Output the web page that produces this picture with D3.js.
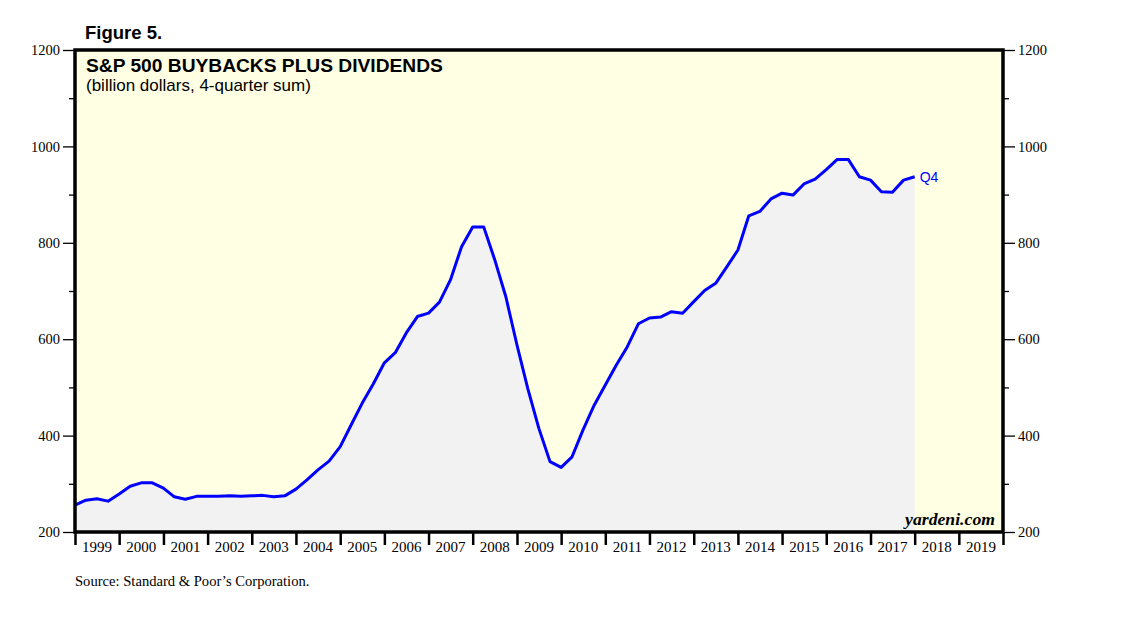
<!DOCTYPE html>
<html>
<head>
<meta charset="utf-8">
<script src="https://cdn.jsdelivr.net/npm/d3@7"></script>
<style>
    body { margin: 0; background: #fff; }
    svg { display: block; }
    .tick text { font-family: "Liberation Serif", "Times New Roman", serif; font-size: 14.5px; fill: #000; }
</style>
</head>
<body>
<svg id="chart" width="1138" height="621"></svg>
<script>
// quarterly 4-quarter sums, billion dollars
const quarters = [
    "1998Q4",
    "1999Q1", "1999Q2", "1999Q3", "1999Q4",
    "2000Q1", "2000Q2", "2000Q3", "2000Q4",
    "2001Q1", "2001Q2", "2001Q3", "2001Q4",
    "2002Q1", "2002Q2", "2002Q3", "2002Q4",
    "2003Q1", "2003Q2", "2003Q3", "2003Q4",
    "2004Q1", "2004Q2", "2004Q3", "2004Q4",
    "2005Q1", "2005Q2", "2005Q3", "2005Q4",
    "2006Q1", "2006Q2", "2006Q3", "2006Q4",
    "2007Q1", "2007Q2", "2007Q3", "2007Q4",
    "2008Q1", "2008Q2", "2008Q3", "2008Q4",
    "2009Q1", "2009Q2", "2009Q3", "2009Q4",
    "2010Q1", "2010Q2", "2010Q3", "2010Q4",
    "2011Q1", "2011Q2", "2011Q3", "2011Q4",
    "2012Q1", "2012Q2", "2012Q3", "2012Q4",
    "2013Q1", "2013Q2", "2013Q3", "2013Q4",
    "2014Q1", "2014Q2", "2014Q3", "2014Q4",
    "2015Q1", "2015Q2", "2015Q3", "2015Q4",
    "2016Q1", "2016Q2", "2016Q3", "2016Q4",
    "2017Q1", "2017Q2", "2017Q3", "2017Q4"
];
const buybacksPlusDividends = [
    256,
    266, 269, 264, 279,
    295, 302, 302, 291,
    273, 268, 274, 274,
    274, 275, 274, 275,
    276, 273, 275, 289,
    308, 329, 347, 377,
    422, 467, 507, 551,
    572, 613, 647, 654,
    677, 723, 792, 833,
    833, 765, 688, 588,
    497, 415, 346, 334,
    356, 412, 463, 505,
    546, 584, 632, 644,
    646, 657, 654, 678,
    701, 716, 750, 785,
    856, 865, 891, 903,
    899, 922, 932, 952,
    973, 973, 937, 930,
    906, 905, 930, 937
];
const yearLabels = ["1999", "2000", "2001", "2002", "2003", "2004", "2005", "2006", "2007",
    "2008", "2009", "2010", "2011", "2012", "2013", "2014", "2015", "2016", "2017", "2018", "2019"];
const yMajorTicks = [200, 400, 600, 800, 1000, 1200];
const yMinorTicks = [300, 500, 700, 900, 1100];

const svg = d3.select("#chart");
const plotL = 75, plotR = 1003, plotT = 50, plotB = 532;

// points sit at the end of each quarter
const quarterEnd = function (q) {
    const yr = +q.slice(0, 4), n = +q.slice(5);
    return new Date(yr, n * 3, 1);
};
const data = quarters.map(function (q, i) {
    return {date: quarterEnd(q), value: buybacksPlusDividends[i]};
});

const x = d3.scaleTime()
    .domain([new Date(1999, 0, 1), new Date(2020, 0, 1)])
    .range([plotL, plotR]);
const y = d3.scaleLinear().domain([200, 1200]).range([plotB, plotT]);

svg.append("rect")
    .attr("x", plotL).attr("y", plotT)
    .attr("width", plotR - plotL).attr("height", plotB - plotT)
    .attr("fill", "#ffffe3");

svg.append("path")
    .datum(data)
    .attr("fill", "#f2f2f2")
    .attr("d", d3.area().x(d => x(d.date)).y0(plotB).y1(d => y(d.value)));

svg.append("path")
    .datum(data)
    .attr("fill", "none")
    .attr("stroke", "#0000ff")
    .attr("stroke-width", 3)
    .attr("stroke-linejoin", "round")
    .attr("d", d3.line().x(d => x(d.date)).y(d => y(d.value)));

const last = data[data.length - 1];
svg.append("text")
    .attr("x", x(last.date) + 5).attr("y", y(last.value) + 5)
    .attr("font-family", "Liberation Sans, Arial, sans-serif")
    .attr("font-size", 14)
    .attr("fill", "#0000ff")
    .text("Q4");

// y axes, left and right, major + minor ticks
const yAxisL = svg.append("g").attr("transform", "translate(" + plotL + ",0)");
yAxisL.append("g").call(d3.axisLeft(y).tickValues(yMajorTicks).tickSize(12).tickPadding(3).tickFormat(d3.format("d")));
yAxisL.append("g").call(d3.axisLeft(y).tickValues(yMinorTicks).tickSize(6).tickFormat(""));
const yAxisR = svg.append("g").attr("transform", "translate(" + plotR + ",0)");
yAxisR.append("g").call(d3.axisRight(y).tickValues(yMajorTicks).tickSize(12).tickPadding(3).tickFormat(d3.format("d")));
yAxisR.append("g").call(d3.axisRight(y).tickValues(yMinorTicks).tickSize(6).tickFormat(""));

// x axis: ticks on year boundaries, labels centred in the year
const yearBounds = d3.range(1999, 2021).map(yr => new Date(yr, 0, 1));
const xAxis = svg.append("g").attr("transform", "translate(0," + plotB + ")");
xAxis.call(d3.axisBottom(x).tickValues(yearBounds).tickSize(13).tickFormat(""));
xAxis.selectAll("text.yearLabel")
    .data(yearLabels)
    .enter().append("text")
    .attr("class", "yearLabel")
    .attr("x", d => (x(new Date(+d, 0, 1)) + x(new Date(+d + 1, 0, 1))) / 2)
    .attr("y", 20)
    .attr("text-anchor", "middle")
    .attr("font-family", "Liberation Serif, Times New Roman, serif")
    .attr("font-size", 15)
    .attr("fill", "#000")
    .text(d => d);

svg.selectAll(".domain").remove();
svg.selectAll(".tick line").attr("stroke", "#000").attr("stroke-width", 1.3);
xAxis.selectAll(".tick line").attr("stroke-width", 2.5);

svg.append("rect")
    .attr("x", plotL).attr("y", plotT)
    .attr("width", plotR - plotL).attr("height", plotB - plotT)
    .attr("fill", "none")
    .attr("stroke", "#000")
    .attr("stroke-width", 3.5);

// titles and notes
svg.append("text")
    .attr("x", 85).attr("y", 39)
    .attr("font-family", "Liberation Sans, Arial, sans-serif")
    .attr("font-weight", "bold").attr("font-size", 18.5)
    .text("Figure 5.");
svg.append("text")
    .attr("x", 86).attr("y", 72)
    .attr("font-family", "Liberation Sans, Arial, sans-serif")
    .attr("font-weight", "bold").attr("font-size", 19.2)
    .text("S&P 500 BUYBACKS PLUS DIVIDENDS");
svg.append("text")
    .attr("x", 86).attr("y", 91)
    .attr("font-family", "Liberation Sans, Arial, sans-serif")
    .attr("font-size", 17)
    .text("(billion dollars, 4-quarter sum)");
svg.append("text")
    .attr("x", 995).attr("y", 525)
    .attr("text-anchor", "end")
    .attr("font-family", "Liberation Serif, Times New Roman, serif")
    .attr("font-style", "italic").attr("font-weight", "bold").attr("font-size", 17.7)
    .text("yardeni.com");
svg.append("text")
    .attr("x", 75).attr("y", 586)
    .attr("font-family", "Liberation Serif, Times New Roman, serif")
    .attr("font-size", 14.6)
    .text("Source: Standard & Poor\u2019s Corporation.");
</script>
</body>
</html>
